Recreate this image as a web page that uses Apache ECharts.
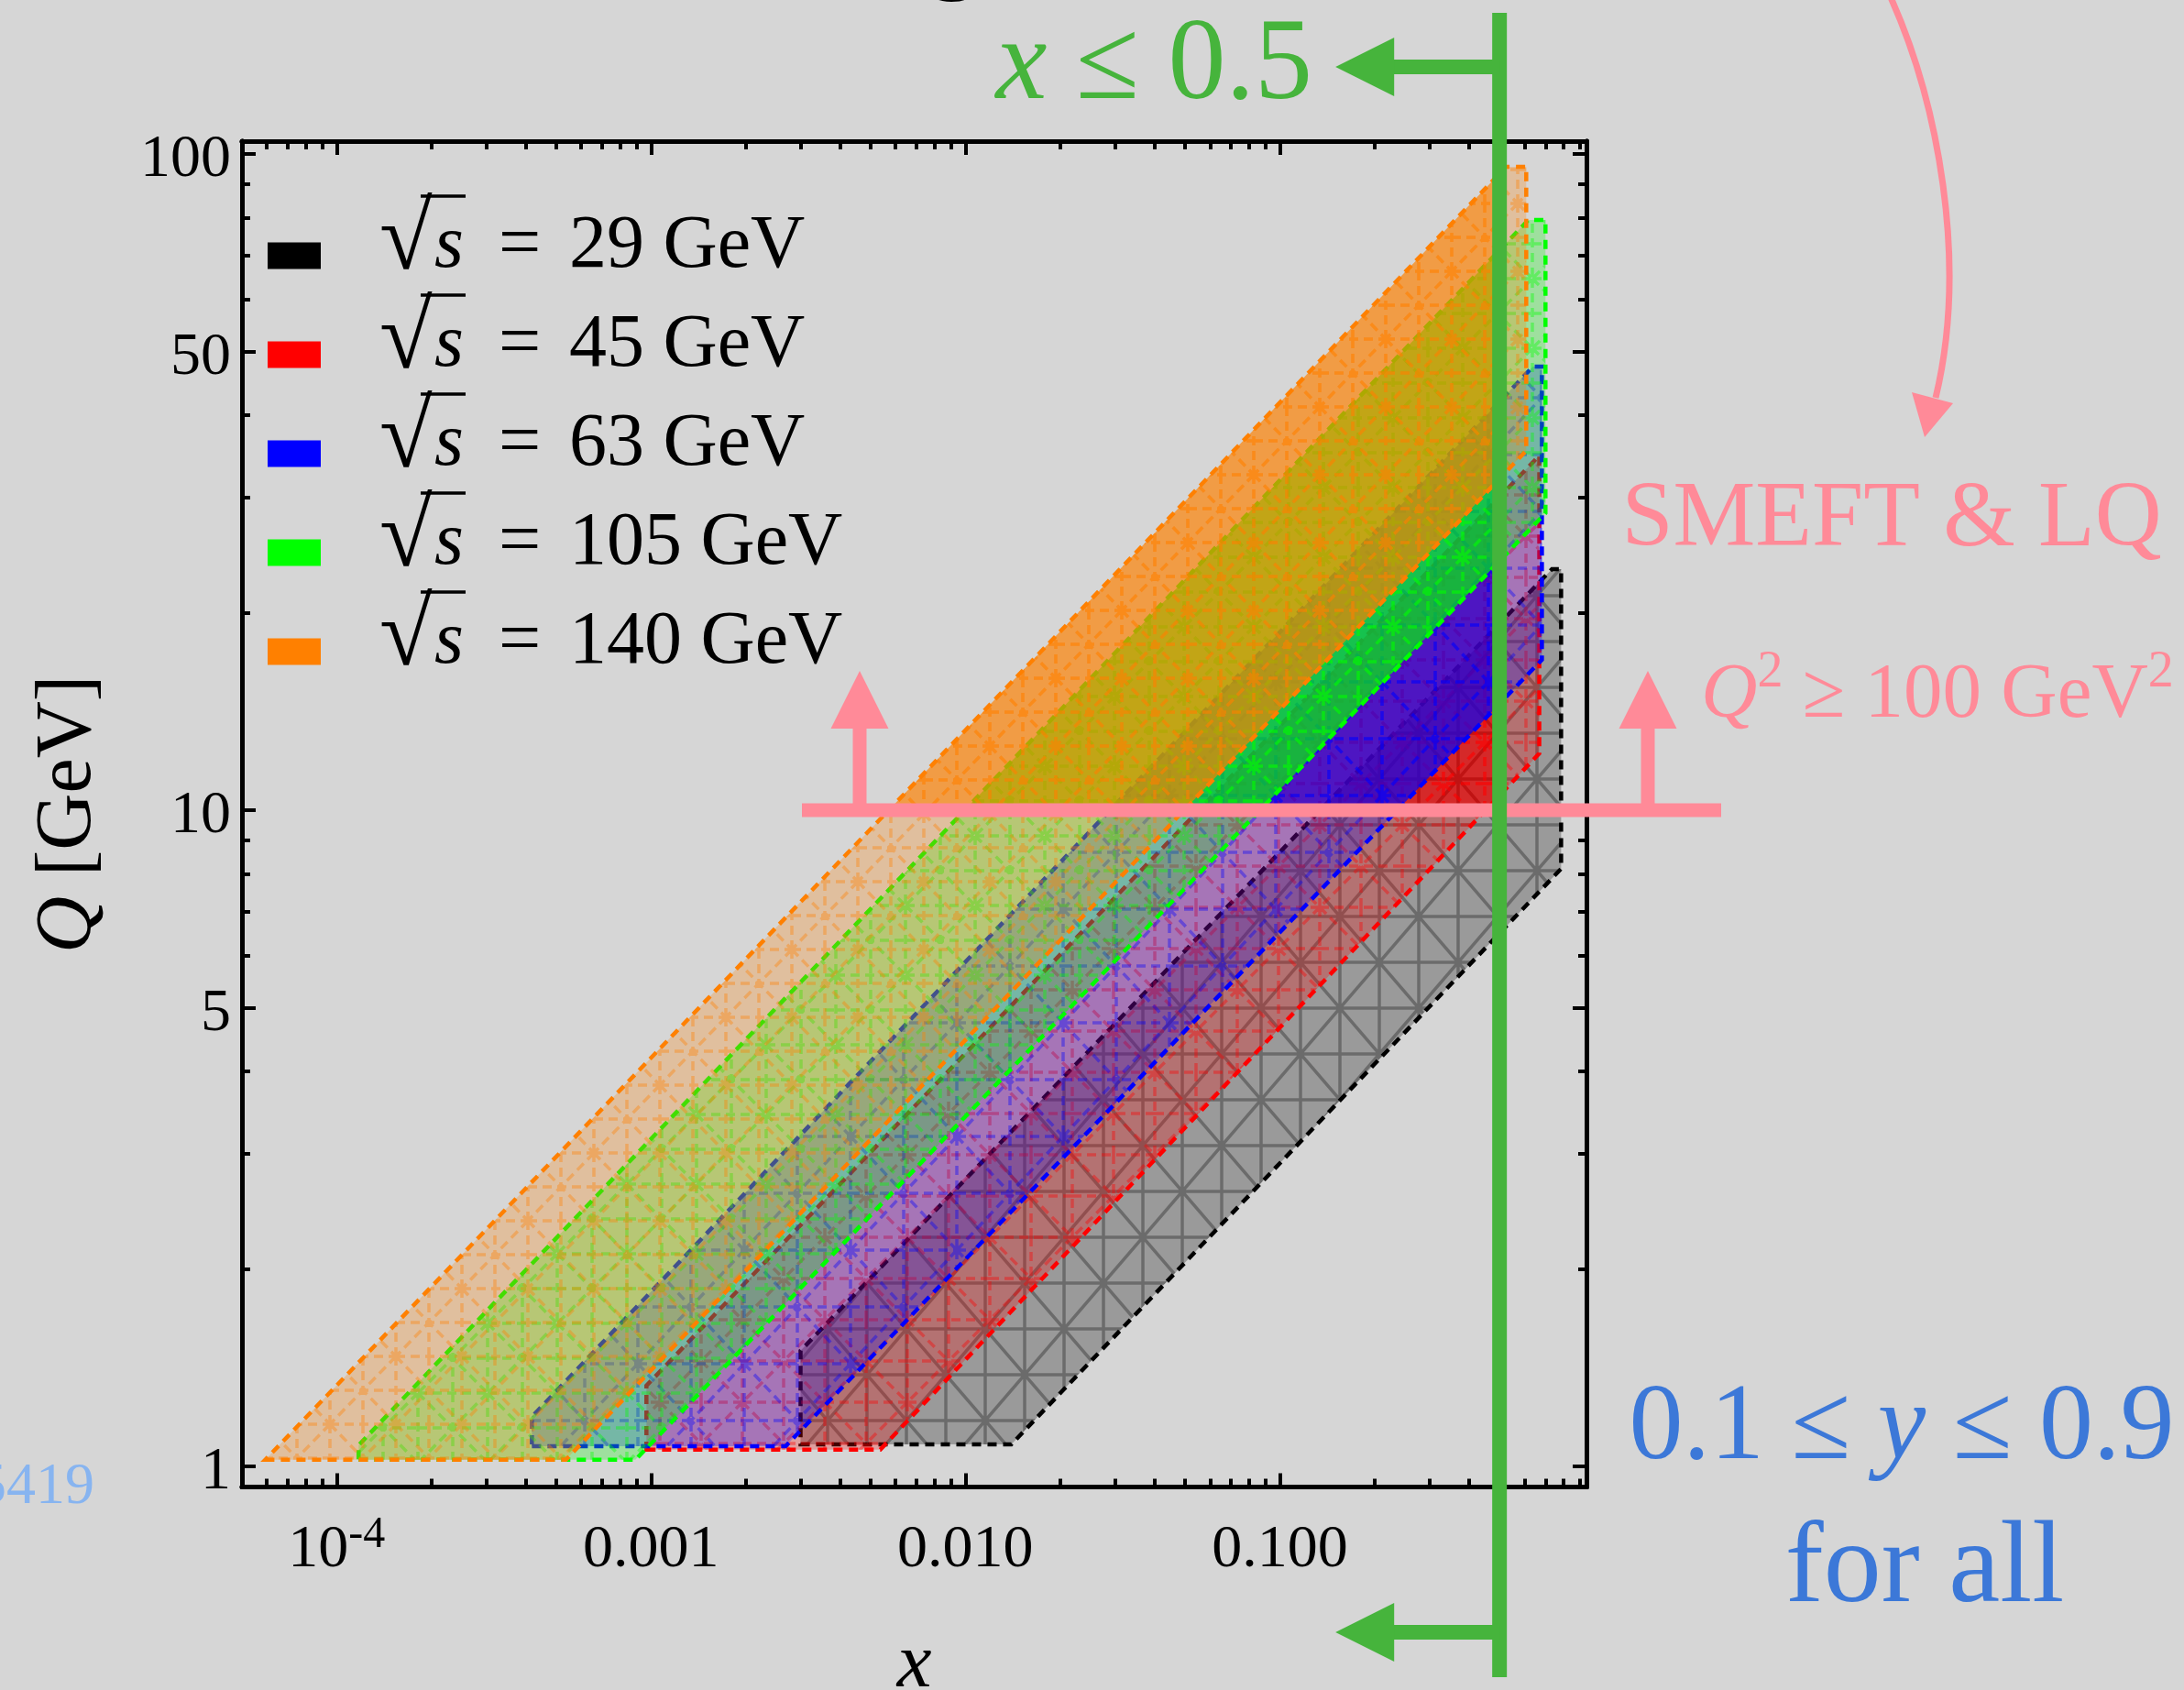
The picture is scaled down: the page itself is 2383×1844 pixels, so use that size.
<!DOCTYPE html>
<html>
<head>
<meta charset="utf-8">
<script src="https://cdn.jsdelivr.net/npm/echarts@6/dist/echarts.min.js"></script>
<style>
  html, body { margin: 0; padding: 0; background: #d6d6d6; }
  #chart { width: 2383px; height: 1844px; }
</style>
</head>
<body>
<div id="chart"></div>
<script>
// Centre-of-mass energies (GeV) and their legend labels
const energies = [29, 45, 63, 105, 140];
const energyLabels = ['29 GeV', '45 GeV', '63 GeV', '105 GeV', '140 GeV'];

// Corners of each kinematic region in the (x, Q [GeV]) plane
const band29X = [2.99e-3, 1.40e-2, 0.785, 0.785, 0.734, 2.99e-3];
const band29Q = [1.080, 1.080, 8.14, 23.3, 23.3, 1.50];
const band45X = [9.67e-4, 5.36e-3, 0.669, 0.669, 9.67e-4];
const band45Q = [1.060, 1.060, 12.2, 34.7, 1.327];
const band63X = [4.18e-4, 2.68e-3, 0.682, 0.682, 0.638, 4.18e-4];
const band63Q = [1.073, 1.073, 16.95, 47.4, 47.4, 1.19];
const band105X = [1.175e-4, 8.92e-4, 0.700, 0.700, 0.617, 1.175e-4];
const band105Q = [1.023, 1.023, 28.35, 79.3, 79.3, 1.077];
const band140X = [5.93e-5, 5.36e-4, 0.608, 0.608, 0.525];
const band140Q = [1.023, 1.023, 35.3, 95.6, 95.6];

// Selection cuts
const xCut = 0.5;    // x <= 0.5
const qCut = 10;     // Q^2 >= 100 GeV^2

// Axis ticks
const xMajorTicks = [1e-4, 1e-3, 1e-2, 1e-1];
const xTickLabels = ['10^-4', '0.001', '0.010', '0.100'];
const xMinorTicks = [6e-5, 7e-5, 8e-5, 9e-5,
  2e-4, 3e-4, 4e-4, 5e-4, 6e-4, 7e-4, 8e-4, 9e-4,
  2e-3, 3e-3, 4e-3, 5e-3, 6e-3, 7e-3, 8e-3, 9e-3,
  0.02, 0.03, 0.04, 0.05, 0.06, 0.07, 0.08, 0.09,
  0.2, 0.3, 0.4, 0.5, 0.6, 0.7, 0.8, 0.9];
const yMajorTicks = [1, 5, 10, 50, 100];
const yTickLabels = ['1', '5', '10', '50', '100'];
const yMinorTicks = [2, 3, 4, 6, 7, 8, 9, 20, 30, 40, 60, 70, 80, 90];

const X_MIN = 5e-5, X_MAX = 0.945;
const Q_MIN = 0.93, Q_MAX = 104.6;

// ---- styling ----
const FONT = 'Liberation Serif';
const BG = '#d6d6d6';
const PINK = '#ff8a98';
const GREEN = '#46b43c';
const BLUE_TEXT = '#3c78d8';
const BASE_ALPHA = 0.26;
const SAT_ALPHA = 0.56;

function rgba(rgb, a) { return 'rgba(' + rgb + ',' + a + ')'; }

// Triangulated mesh texture (square cells with alternating diagonals)
function meshTile(rgb, ax, ay, alpha, dashed) {
  const c = document.createElement('canvas');
  c.width = 2 * ax; c.height = 2 * ay;
  const g = c.getContext('2d');
  g.strokeStyle = rgba(rgb, alpha);
  g.lineWidth = 3.5;
  if (dashed) g.setLineDash([10, 6]);
  g.beginPath();
  [0, ax, 2 * ax].forEach(x => { g.moveTo(x, 0); g.lineTo(x, 2 * ay); });
  [0, ay, 2 * ay].forEach(y => { g.moveTo(0, y); g.lineTo(2 * ax, y); });
  g.moveTo(0, 0); g.lineTo(2 * ax, 2 * ay);
  g.moveTo(2 * ax, 0); g.lineTo(0, 2 * ay);
  g.stroke();
  return c;
}

const bandStyles = [
  { xs: band29X,  qs: band29Q,  rgb: '0,0,0',     swatch: '#000000', cell: [43, 50], dashed: false, meshAlpha: 0.30, base: 0.28, sat: 0.18 },
  { xs: band45X,  qs: band45Q,  rgb: '255,0,0',   swatch: '#ff0000', cell: [45, 45], dashed: true,  meshAlpha: 0.38, base: BASE_ALPHA, sat: SAT_ALPHA },
  { xs: band63X,  qs: band63Q,  rgb: '0,0,255',   swatch: '#0000ff', cell: [58, 62], dashed: true,  meshAlpha: 0.38, base: BASE_ALPHA, sat: SAT_ALPHA },
  { xs: band105X, qs: band105Q, rgb: '0,255,0',   swatch: '#00ff00', cell: [38, 38], dashed: true,  meshAlpha: 0.38, base: BASE_ALPHA, sat: SAT_ALPHA },
  { xs: band140X, qs: band140Q, rgb: '255,128,0', swatch: '#ff8000', cell: [36, 37], dashed: true,  meshAlpha: 0.38, base: BASE_ALPHA, sat: SAT_ALPHA }
];

// Sutherland-Hodgman clip against one half-plane
function clipHalf(pts, inside, cross) {
  const out = [];
  for (let i = 0; i < pts.length; i++) {
    const a = pts[i], b = pts[(i + 1) % pts.length];
    const ia = inside(a), ib = inside(b);
    if (ia) out.push(a);
    if (ia !== ib) out.push(cross(a, b));
  }
  return out;
}

function bandSeries(band, idx) {
  const tile = meshTile(band.rgb, band.cell[0], band.cell[1], band.meshAlpha, band.dashed);
  const pattern = { image: tile, repeat: 'repeat' };
  return {
    type: 'custom',
    name: '\u221As = ' + energyLabels[idx],
    xAxisIndex: 0, yAxisIndex: 0,
    silent: true,
    z: 2 + idx * 0.1,
    data: band.xs.map((x, i) => [x, band.qs[i]]),
    renderItem: function (params, api) {
      if (params.dataIndex !== 0) return null;
      const pts = band.xs.map((x, i) => api.coord([x, band.qs[i]]));
      const corner = api.coord([xCut, qCut]);
      let sat = clipHalf(pts, p => p[0] <= corner[0], (a, b) => {
        const t = (corner[0] - a[0]) / (b[0] - a[0]);
        return [corner[0], a[1] + t * (b[1] - a[1])];
      });
      sat = clipHalf(sat, p => p[1] <= corner[1], (a, b) => {
        const t = (corner[1] - a[1]) / (b[1] - a[1]);
        return [a[0] + t * (b[0] - a[0]), corner[1]];
      });
      const children = [
        { type: 'polygon', shape: { points: pts }, style: { fill: rgba(band.rgb, band.base) } },
        { type: 'polygon', shape: { points: pts }, style: { fill: pattern } }
      ];
      if (sat.length > 2) {
        children.push({ type: 'polygon', shape: { points: sat }, style: { fill: rgba(band.rgb, band.sat) } });
        children.push({ type: 'polygon', shape: { points: sat }, style: { fill: pattern } });
      }
      children.push({
        type: 'polygon', shape: { points: pts },
        style: { fill: 'none', stroke: rgba(band.rgb, 1), lineWidth: 4.5, lineDash: [10, 7] }
      });
      return { type: 'group', children: children };
    }
  };
}

// Cut lines with their arrows, anchored at the cut values
const cutSeries = {
  type: 'custom',
  xAxisIndex: 0, yAxisIndex: 0,
  silent: true, clip: false, z: 20,
  data: [[xCut, qCut]],
  renderItem: function (params, api) {
    const p = api.coord([api.value(0), api.value(1)]);
    const gx = p[0], py = p[1];
    const els = [];
    els.push({ type: 'rect', shape: { x: 875, y: py - 7.5, width: 1878 - 875, height: 15 }, style: { fill: PINK } });
    [938, 1798].forEach(ax => {
      els.push({ type: 'rect', shape: { x: ax - 7.5, y: py - 92, width: 15, height: 92 }, style: { fill: PINK } });
      els.push({ type: 'polygon', shape: { points: [[ax, py - 152], [ax - 31.5, py - 89], [ax + 31.5, py - 89]] }, style: { fill: PINK } });
    });
    els.push({ type: 'rect', shape: { x: gx - 8, y: 14, width: 16, height: 1816 }, style: { fill: GREEN } });
    [73, 1781].forEach(ay => {
      els.push({ type: 'rect', shape: { x: gx - 117, y: ay - 8, width: 117, height: 16 }, style: { fill: GREEN } });
      els.push({ type: 'polygon', shape: { points: [[gx - 179, ay], [gx - 115, ay - 32], [gx - 115, ay + 32]] }, style: { fill: GREEN } });
    });
    return { type: 'group', children: els };
  }
};

function findIndex(ticks, v) {
  return ticks.findIndex(t => Math.abs(Math.log10(t) - Math.log10(v)) < 1e-6);
}

function xAxisDef(position, ticks, tickLen, withLabels) {
  return {
    type: 'log', gridIndex: 0, position: position, min: X_MIN, max: X_MAX,
    splitLine: { show: false },
    axisLine: { show: true, onZero: false, lineStyle: { color: '#000', width: 5 } },
    axisTick: { show: true, inside: true, length: tickLen, customValues: ticks, lineStyle: { color: '#000', width: 4 } },
    axisLabel: withLabels ? {
      show: true, customValues: xMajorTicks, margin: 29,
      formatter: function (v) {
        const lab = xTickLabels[findIndex(xMajorTicks, v)] || '';
        if (lab.indexOf('^') >= 0) {
          const parts = lab.split('^');
          return '{b|' + parts[0] + '}{sup|' + parts[1] + '}';
        }
        return '{b|' + lab + '}';
      },
      rich: {
        b: { fontFamily: FONT, fontSize: 66, lineHeight: 80, color: '#000' },
        sup: { fontFamily: FONT, fontSize: 48, lineHeight: 44, verticalAlign: 'top', color: '#000' }
      }
    } : { show: false }
  };
}

function yAxisDef(position, ticks, tickLen, withLabels) {
  return {
    type: 'log', gridIndex: 0, position: position, min: Q_MIN, max: Q_MAX,
    splitLine: { show: false },
    axisLine: { show: true, onZero: false, lineStyle: { color: '#000', width: 5 } },
    axisTick: { show: true, inside: true, length: tickLen, customValues: ticks, lineStyle: { color: '#000', width: 4 } },
    axisLabel: withLabels ? {
      show: true, customValues: yMajorTicks, margin: 12,
      formatter: function (v) { return '{n|' + (yTickLabels[findIndex(yMajorTicks, v)] || '') + '}'; },
      rich: {
        n: { fontFamily: FONT, fontSize: 66, lineHeight: 66, color: '#000', padding: [14, 0, 0, 0] }
      }
    } : { show: false }
  };
}

const xAxes = [
  xAxisDef('bottom', xMajorTicks, 15, true),
  xAxisDef('top', xMajorTicks, 15, false),
  xAxisDef('bottom', xMinorTicks, 9, false),
  xAxisDef('top', xMinorTicks, 9, false)
];
xAxes[0].name = 'x';
xAxes[0].nameLocation = 'middle';
xAxes[0].nameGap = 153;
xAxes[0].nameTextStyle = { fontFamily: FONT, fontSize: 85, fontStyle: 'italic', lineHeight: 85, color: '#000' };

const yAxes = [
  yAxisDef('left', yMajorTicks, 15, true),
  yAxisDef('right', yMajorTicks, 15, false),
  yAxisDef('left', yMinorTicks, 9, false),
  yAxisDef('right', yMinorTicks, 9, false)
];
yAxes[0].name = '{q|Q} [GeV]';
yAxes[0].nameLocation = 'middle';
yAxes[0].nameRotate = 90;
yAxes[0].nameGap = 146;
yAxes[0].nameTextStyle = {
  fontFamily: FONT, fontSize: 86, lineHeight: 86, color: '#000',
  rich: { q: { fontFamily: FONT, fontSize: 86, fontStyle: 'italic', lineHeight: 86, color: '#000' } }
};

// Legend drawn as text rows
const legendEls = [];
energies.forEach((e, i) => {
  const cy = 263.5 + 108 * i;
  const ty = cy + 6;
  legendEls.push({ type: 'rect', shape: { x: 292, y: cy + 1, width: 58, height: 29 }, style: { fill: bandStyles[i].swatch }, z: 50 });
  legendEls.push({ type: 'text', x: 414, y: ty - 4, z: 50,
    style: { text: '\u221A', fill: '#000', fontFamily: FONT, fontSize: 105, align: 'left', verticalAlign: 'middle', textAlign: 'left', textVerticalAlign: 'middle' } });
  legendEls.push({ type: 'line', shape: { x1: 459, y1: cy - 49.5, x2: 508, y2: cy - 49.5 }, style: { stroke: '#000', lineWidth: 3.5 }, z: 50 });
  legendEls.push({ type: 'text', x: 474, y: ty, z: 50,
    style: { text: 's', fill: '#000', fontFamily: FONT, fontSize: 82, fontStyle: 'italic', align: 'left', verticalAlign: 'middle', textAlign: 'left', textVerticalAlign: 'middle' } });
  legendEls.push({ type: 'text', x: 544, y: ty, z: 50,
    style: { text: '=', fill: '#000', fontFamily: FONT, fontSize: 82, align: 'left', verticalAlign: 'middle', textAlign: 'left', textVerticalAlign: 'middle' } });
  legendEls.push({ type: 'text', x: 621, y: ty, z: 50,
    style: { text: energyLabels[i], fill: '#000', fontFamily: FONT, fontSize: 82, align: 'left', verticalAlign: 'middle', textAlign: 'left', textVerticalAlign: 'middle' } });
});

function label(text, x, y, color, size, align, rich) {
  return {
    type: 'text', x: x, y: y, z: 60,
    style: {
      text: text, fill: color, fontFamily: FONT, fontSize: size,
      align: align, verticalAlign: 'middle', textAlign: align, textVerticalAlign: 'middle',
      rich: rich || {}
    }
  };
}

const annotationEls = [
  // curved pointer from the note above
  { type: 'bezierCurve', z: 60,
    shape: { x1: 2062, y1: -5, cpx1: 2114, cpy1: 110, cpx2: 2148, cpy2: 285, x2: 2112, y2: 434 },
    style: { stroke: PINK, lineWidth: 7, fill: 'none' } },
  { type: 'polygon', z: 60, shape: { points: [[2100, 477], [2086, 428], [2131, 440]] }, style: { fill: PINK } },
  label('{i|x} \u2264 0.5', 1432, 74, GREEN, 126, 'right',
    { i: { fontFamily: FONT, fontSize: 126, fontStyle: 'italic', fill: GREEN, color: GREEN } }),
  label('SMEFT & LQ', 2064, 568, PINK, 101, 'center'),
  label('{i|Q}{sup|2} \u2265 100 GeV{sup|2}', 1856, 760, PINK, 85, 'left', {
    i: { fontFamily: FONT, fontSize: 85, fontStyle: 'italic', lineHeight: 108, color: PINK },
    sup: { fontFamily: FONT, fontSize: 56, lineHeight: 56, verticalAlign: 'top', color: PINK }
  }),
  label('0.1 \u2264 {i|y} \u2264 0.9', 2075, 1560, BLUE_TEXT, 118, 'center',
    { i: { fontFamily: FONT, fontSize: 118, fontStyle: 'italic', color: BLUE_TEXT } }),
  label('for all', 2100, 1714, BLUE_TEXT, 126, 'center'),
  label('5419', 103, 1623, '#87b4f0', 64, 'right'),
  label('g', 1040, -56, '#000', 120, 'center')
];

const chart = echarts.init(document.getElementById('chart'), null, { renderer: 'canvas', width: 2383, height: 1844 });

chart.setOption({
  backgroundColor: BG,
  animation: false,
  grid: { left: 264, top: 154, right: 652, bottom: 221.5, containLabel: false, outerBoundsMode: 'none' },
  xAxis: xAxes,
  yAxis: yAxes,
  series: bandStyles.map(bandSeries).concat([cutSeries]),
  graphic: { elements: legendEls.concat(annotationEls) }
});
</script>
</body>
</html>
